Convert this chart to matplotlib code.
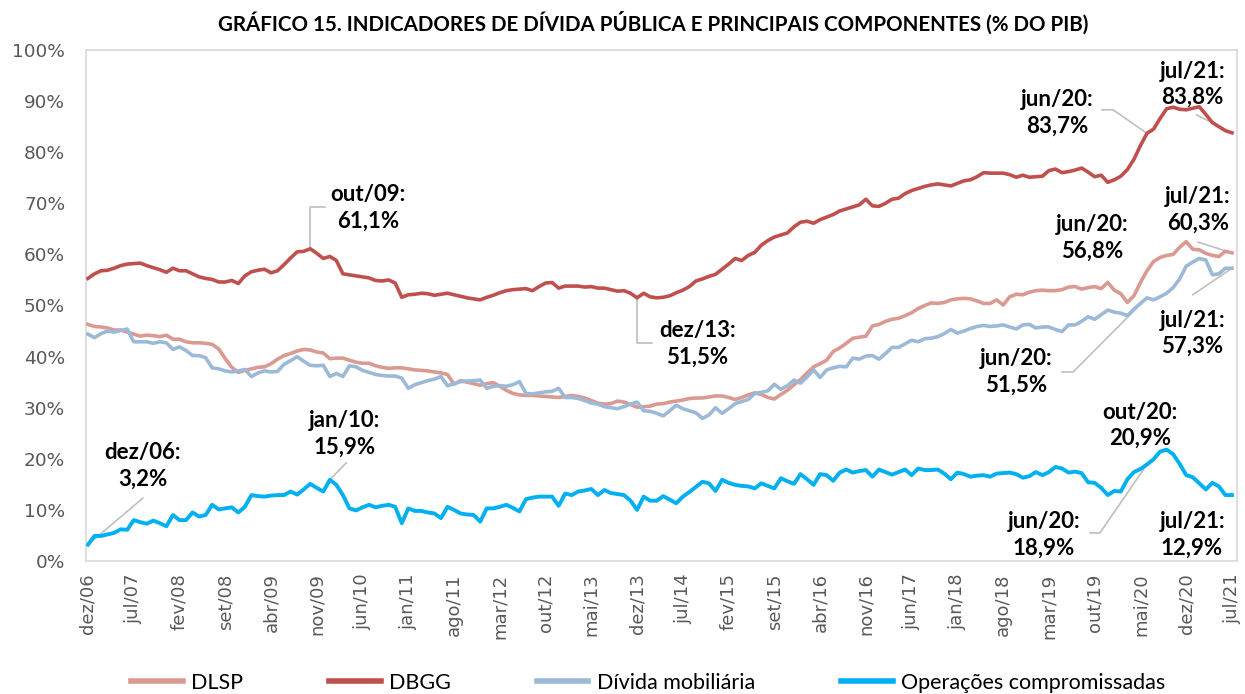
import matplotlib
matplotlib.use("Agg")
import matplotlib.pyplot as plt

# ---------------- data (monthly, dez/06 .. jul/21) ----------------
dlsp = [46.3, 45.9, 45.8, 45.6, 45.2, 45.2, 44.8, 44.4, 44.0, 44.2, 44.1, 43.9, 44.2, 43.4, 43.4, 42.9,
        42.7, 42.7, 42.6, 42.4, 41.5, 39.6, 37.9, 36.9, 37.3, 37.6, 37.9, 38.0, 38.6, 39.5, 40.2, 40.6,
        41.1, 41.4, 41.3, 40.9, 40.7, 39.6, 39.7, 39.7, 39.3, 38.9, 38.7, 38.7, 38.2, 37.9, 37.7, 37.8,
        37.8, 37.6, 37.4, 37.3, 37.2, 37.0, 36.8, 36.5, 34.6, 35.3, 35.0, 34.7, 34.4, 34.7, 34.9, 34.2,
        33.4, 32.8, 32.5, 32.4, 32.4, 32.3, 32.2, 32.1, 32.0, 32.2, 32.4, 32.2, 31.9, 31.4, 30.9, 30.7,
        30.8, 31.3, 31.1, 30.6, 30.1, 30.2, 30.3, 30.7, 30.8, 31.1, 31.3, 31.5, 31.8, 31.9, 31.9, 32.1,
        32.3, 32.3, 32.0, 31.6, 32.0, 32.5, 32.9, 32.6, 32.0, 31.7, 32.6, 33.4, 34.5, 35.5, 36.8, 38.0,
        38.6, 39.3, 41.0, 41.7, 42.6, 43.6, 43.8, 44.0, 46.0, 46.3, 46.9, 47.3, 47.5, 48.0, 48.6, 49.4,
        50.0, 50.5, 50.4, 50.6, 51.1, 51.3, 51.4, 51.3, 50.9, 50.4, 50.4, 51.1, 50.1, 51.7, 52.2, 52.1,
        52.6, 52.9, 53.0, 52.9, 52.9, 53.1, 53.6, 53.7, 53.2, 53.5, 53.7, 53.3, 54.5, 53.0, 52.3, 50.6,
        51.9, 54.5, 56.8, 58.6, 59.4, 59.8, 60.0, 61.4, 62.5, 61.0, 60.9, 60.2, 59.8, 59.6, 60.6, 60.3]

dbgg = [55.3, 56.2, 56.8, 56.9, 57.3, 57.8, 58.1, 58.2, 58.3, 57.8, 57.4, 57.0, 56.5, 57.3, 56.8, 56.8,
        56.2, 55.6, 55.3, 55.1, 54.6, 54.6, 54.9, 54.3, 55.8, 56.6, 56.9, 57.1, 56.4, 56.8, 58.0, 59.3,
        60.5, 60.6, 61.1, 60.2, 59.2, 59.6, 58.8, 56.2, 56.0, 55.8, 55.6, 55.4, 54.9, 54.8, 55.0, 54.4,
        51.6, 52.1, 52.2, 52.4, 52.3, 52.0, 52.2, 52.4, 52.1, 51.8, 51.5, 51.3, 51.1, 51.6, 52.0, 52.5,
        52.9, 53.1, 53.2, 53.3, 52.9, 53.7, 54.4, 54.5, 53.4, 53.8, 53.8, 53.8, 53.6, 53.7, 53.4, 53.4,
        53.1, 52.8, 52.9, 52.4, 51.5, 52.4, 51.7, 51.5, 51.6, 51.9, 52.5, 53.0, 53.7, 54.8, 55.2, 55.7,
        56.1, 57.1, 58.1, 59.2, 58.8, 59.8, 60.4, 61.8, 62.7, 63.4, 63.8, 64.2, 65.4, 66.3, 66.5, 66.1,
        66.8, 67.3, 67.8, 68.5, 68.9, 69.3, 69.7, 70.8, 69.5, 69.4, 70.0, 70.8, 71.0, 71.9, 72.5, 72.9,
        73.3, 73.6, 73.8, 73.6, 73.4, 73.9, 74.4, 74.6, 75.2, 76.0, 75.9, 75.9, 75.9, 75.6, 75.1, 75.5,
        75.1, 75.2, 75.3, 76.4, 76.7, 76.0, 76.2, 76.5, 76.9, 76.1, 75.2, 75.5, 74.1, 74.6, 75.3, 76.6,
        78.6, 81.3, 83.7, 84.5, 86.6, 88.5, 88.8, 88.4, 88.3, 88.6, 88.9, 87.4, 85.8, 85.0, 84.2, 83.8]

mobiliaria = [44.4, 43.7, 44.5, 45.0, 44.8, 45.1, 45.4, 42.9, 42.9, 42.9, 42.6, 42.9, 42.7, 41.4, 41.9, 41.2,
              40.2, 40.2, 39.8, 37.8, 37.6, 37.2, 37.0, 37.2, 37.5, 36.1, 36.8, 37.2, 37.0, 37.1, 38.5, 39.2,
              40.0, 39.1, 38.3, 38.2, 38.3, 36.1, 36.7, 36.1, 38.2, 38.0, 37.3, 36.9, 36.5, 36.3, 36.2, 36.2,
              35.8, 33.8, 34.5, 34.9, 35.3, 35.6, 36.1, 34.3, 34.7, 35.1, 35.2, 35.3, 35.4, 33.8, 34.2, 34.3,
              34.2, 34.5, 35.1, 32.8, 32.7, 32.9, 33.1, 33.2, 33.8, 32.0, 32.0, 31.8, 31.4, 30.9, 30.7, 30.2,
              30.0, 29.8, 30.2, 30.7, 31.1, 29.4, 29.3, 28.9, 28.4, 29.4, 30.5, 29.8, 29.4, 29.0, 27.9, 28.6,
              30.0, 28.9, 29.8, 30.8, 31.2, 31.6, 32.8, 33.0, 33.3, 34.6, 33.6, 34.3, 35.4, 34.8, 36.0, 37.4,
              35.9, 37.4, 37.8, 38.1, 38.0, 39.7, 39.5, 40.1, 40.2, 39.5, 40.6, 41.8, 41.8, 42.5, 43.2, 42.9,
              43.5, 43.6, 43.9, 44.5, 45.3, 44.6, 45.0, 45.5, 45.9, 46.1, 45.9, 46.0, 46.2, 45.8, 45.4, 46.2,
              46.3, 45.6, 45.8, 45.8, 45.3, 44.9, 46.2, 46.2, 46.9, 47.8, 47.3, 48.2, 49.1, 48.7, 48.5, 48.0,
              49.3, 50.4, 51.5, 51.1, 51.7, 52.4, 53.5, 55.2, 57.7, 58.5, 59.2, 58.9, 56.0, 56.2, 57.3, 57.3]

compromissadas = [3.2, 4.9, 4.9, 5.2, 5.5, 6.2, 6.1, 8.0, 7.6, 7.3, 7.9, 7.4, 6.8, 9.0, 8.0, 8.0,
                  9.5, 8.7, 9.0, 11.0, 10.1, 10.3, 10.5, 9.5, 10.6, 12.9, 12.7, 12.6, 12.8, 12.9, 12.9, 13.6,
                  13.0, 14.0, 15.1, 14.3, 13.6, 15.9, 14.9, 12.9, 10.3, 9.9, 10.5, 11.0, 10.5, 10.8, 11.0, 10.6,
                  7.4, 10.3, 9.8, 9.8, 9.5, 9.3, 8.4, 10.6, 10.0, 9.3, 9.1, 9.0, 7.7, 10.3, 10.3, 10.6,
                  11.0, 10.4, 9.7, 12.1, 12.4, 12.6, 12.6, 12.6, 10.8, 13.2, 12.9, 13.6, 13.8, 14.1, 12.9, 13.9,
                  13.3, 13.1, 12.9, 11.8, 10.0, 12.6, 11.8, 11.8, 12.7, 12.0, 11.3, 12.6, 13.5, 14.5, 15.5, 15.2,
                  13.7, 15.9, 15.3, 14.9, 14.7, 14.6, 14.2, 15.2, 14.7, 14.2, 16.2, 15.6, 15.1, 17.0, 16.0, 14.9,
                  17.0, 16.8, 15.7, 17.3, 17.9, 17.3, 17.6, 17.8, 16.5, 17.9, 17.4, 16.9, 17.4, 17.9, 16.8, 18.1,
                  17.8, 17.8, 17.9, 17.1, 16.0, 17.3, 17.0, 16.5, 16.7, 16.8, 16.5, 17.1, 17.2, 17.3, 17.0, 16.3,
                  16.6, 17.4, 16.8, 17.4, 18.4, 18.1, 17.3, 17.5, 17.2, 15.4, 15.3, 14.3, 12.9, 13.7, 13.6, 16.0,
                  17.4, 18.0, 18.9, 19.9, 21.4, 21.8, 20.9, 19.0, 16.8, 16.4, 15.2, 14.0, 15.3, 14.6, 12.9, 12.9]

meses = ["jan", "fev", "mar", "abr", "mai", "jun", "jul", "ago", "set", "out", "nov", "dez"]
start_year, start_month = 2006, 12
tick_step = 7

# ---------------- figure ----------------
W, H = 1245, 694
fig = plt.figure(figsize=(W / 100, H / 100), dpi=100)
ax = fig.add_axes([86 / W, 1 - 561 / H, (1237 - 86) / W, (561 - 50) / H])

n = len(dlsp)
x = list(range(n))

c_dlsp = "#DA9A91"
c_dbgg = "#C0504D"
c_mob = "#9DB9D8"
c_comp = "#00B0F0"

ax.plot(x, dlsp, color=c_dlsp, lw=2.6, solid_joinstyle="round", label="DLSP", zorder=3)
ax.plot(x, dbgg, color=c_dbgg, lw=2.6, solid_joinstyle="round", label="DBGG", zorder=3)
ax.plot(x, mobiliaria, color=c_mob, lw=2.6, solid_joinstyle="round", label="Dívida mobiliária", zorder=3)
ax.plot(x, compromissadas, color=c_comp, lw=2.8, solid_joinstyle="round", label="Operações compromissadas", zorder=3)

ax.set_xlim(-0.3, 175.77)
ax.set_ylim(0, 100)

# x ticks
def month_label(i):
    m = (start_month - 1 + i) % 12
    y = start_year + (start_month - 1 + i) // 12
    return f"{meses[m]}/{y % 100:02d}"

ticks = list(range(0, n, tick_step))
ax.set_xticks(ticks)
ax.set_xticklabels([month_label(i) for i in ticks], rotation=90,
                   fontsize=13, color="#595959", family="DejaVu Sans")
ax.set_yticks(range(0, 101, 10))
ax.set_yticklabels([f"{v}%" for v in range(0, 101, 10)], fontsize=13.3,
                   color="#595959", family="DejaVu Sans")
ax.tick_params(axis="x", length=0, pad=9)
ax.tick_params(axis="y", length=0, pad=15)
for s in ax.spines.values():
    s.set_color("#D9D9D9")
    s.set_linewidth(1.2)

# title
fig.text(653 / W, 1 - 23 / H,
         "GRÁFICO 15. INDICADORES DE DÍVIDA PÚBLICA E PRINCIPAIS COMPONENTES (% DO PIB)",
         ha="center", va="center", fontsize=14.8, fontweight="bold", family="Lato", color="#000000")

# annotations: (text, x, y, leader path)
ann_font = dict(fontsize=16, fontweight="bold", family="Lato", color="#000000",
                ha="center", va="center", linespacing=1.3)
lead = dict(color="#BFBFBF", lw=1.2, zorder=2)

annots = [
    ("out/09:\n61,1%", 42.8, 69.1, [(36.3, 69.3), (34, 69.3), (34, dbgg[34])]),
    ("dez/13:\n51,5%", 93.2, 42.5, [(86.3, 42.7), (84, 42.7), (84, dbgg[84])]),
    ("dez/06:\n3,2%", 8.4, 18.6, [(8.4, 12.3), (0, compromissadas[0])]),
    ("jan/10:\n15,9%", 39.3, 24.9, [(39.5, 19.2), (37, compromissadas[37])]),
    ("jun/20:\n83,7%", 148.2, 87.7, [(155.1, 88.3), (156.8, 88.3), (162, dbgg[162])]),
    ("jul/21:\n83,8%", 169.0, 93.3, [(169.6, 87.3), (175, dbgg[175])]),
    ("jun/20:\n56,8%", 153.6, 63.2, None),
    ("jul/21:\n60,3%", 169.8, 68.7, [(169.8, 62.4), (175, dlsp[175])]),
    ("jul/21:\n57,3%", 168.9, 44.6, [(169.0, 52.1), (175, mobiliaria[175])]),
    ("jun/20:\n51,5%", 142.0, 37.0, [(149.0, 37.0), (150.7, 37.0), (162, mobiliaria[162])]),
    ("out/20:\n20,9%", 160.9, 26.6, None),
    ("jun/20:\n18,9%", 146.2, 5.1, [(153.3, 5.5), (154.8, 5.5), (162, compromissadas[162])]),
    ("jul/21:\n12,9%", 168.9, 5.1, None),
]
for txt, tx, ty, path in annots:
    ax.text(tx, ty, txt, zorder=5, **ann_font)
    if path:
        ax.plot([p[0] for p in path], [p[1] for p in path], **lead)

# legend
leg = fig.legend(loc="center", bbox_to_anchor=(648 / W, 1 - 683 / H), ncol=4, frameon=False,
                 prop=dict(family="Lato", size=15.5), handlelength=2.4, handletextpad=0.38,
                 columnspacing=4.0)
for h in leg.legend_handles:
    h.set_linewidth(4)

fig.savefig("out.png", dpi=100)
